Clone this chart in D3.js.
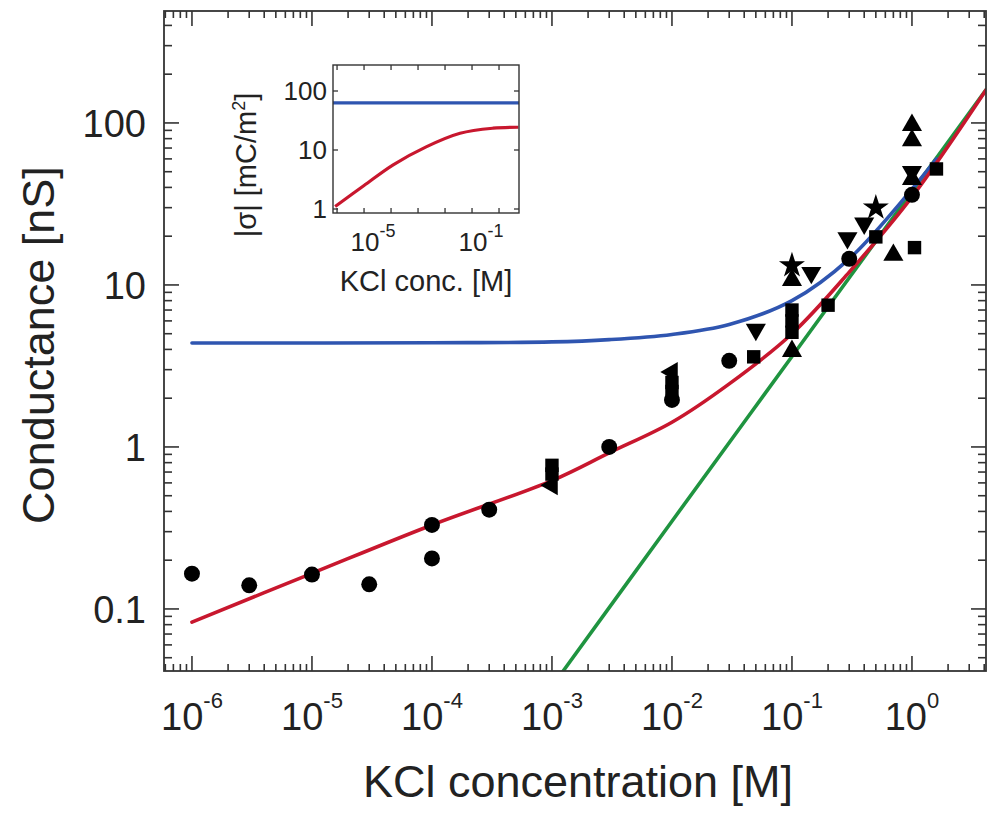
<!DOCTYPE html>
<html><head><meta charset="utf-8">
<script src="https://cdn.jsdelivr.net/npm/d3@7"></script>
<style>
body{margin:0;background:#fff}
text{font-family:"Liberation Sans",Arial,Helvetica,sans-serif;fill:#222}
</style>
</head><body>
<svg id="c" width="987" height="814"></svg>
<script>
// ---------------- data ----------------
const xTickExponents = [-6, -5, -4, -3, -2, -1, 0];
const yTickValues = [0.1, 1, 10, 100];
const yTickLabels = ["0.1", "1", "10", "100"];

// model curves [concentration M, conductance nS]
const blueCurve = [[1e-6,4.38],[1e-4,4.4],[1e-3,4.45],[3e-3,4.6],[0.01,4.95],[0.03,5.7],[0.1,8.0],[0.3,14.5],[1,39],[1.6,60]];
const redCurve = [[1e-6,0.083],[1e-5,0.166],[1e-4,0.33],[1e-3,0.62],[3e-3,0.92],[1e-2,1.42],[3e-2,2.45],[0.1,5.0],[0.3,12],[1,35],[4.14,160]];
const greenCurve = [[1.24e-3,0.0414],[0.01,0.348],[0.1,3.62],[1,37.7],[4.14,160]];

// measured points by marker type
const circles  = [[1e-6,0.165],[3e-6,0.14],[1e-5,0.163],[3e-5,0.142],[1e-4,0.33],[1e-4,0.205],[3e-4,0.41],[3e-3,1.0],[0.01,1.95],[0.03,3.4],[0.3,14.5],[1,36]];
const squares  = [[1e-3,0.77],[1e-3,0.68],[0.01,2.5],[0.01,2.2],[0.048,3.6],[0.1,7.0],[0.1,6.0],[0.1,5.1],[0.2,7.5],[0.5,19.8],[1.05,17],[1.6,52]];
const triUp    = [[0.1,10.7],[0.1,3.9],[0.7,15.3],[1,97],[1,78],[1,45]];
const triDown  = [[0.05,5.3],[0.145,11.9],[0.29,19.5],[0.4,24],[1,50]];
const triLeft  = [[1e-3,0.58],[0.01,2.9]];
const stars    = [[0.1,13.2],[0.5,30]];

// inset: surface charge |sigma| [mC/m^2]
const insetXTickExponents = [-5, -1];
const insetYTickValues = [1, 10, 100];
const insetYTickLabels = ["1", "10", "100"];
const insetBlue = [[7e-7,63],[5.5,63]];
const insetRed = [[8.5e-7,1.1],[1e-5,2.5],[1.2e-4,5.6],[2e-3,11.3],[0.036,19.2],[0.6,23.4],[5.2,24.3]];

// ---------------- layout ----------------
const svg = d3.select("#c");
const L = 164, R = 986, T = 11, B = 671;
const x = d3.scaleLog().domain([Math.pow(10,-6.233), Math.pow(10,0.617)]).range([L, R]);
const y = d3.scaleLog().domain([Math.pow(10,-1.383), Math.pow(10,2.691)]).range([B, T]);

const axisColor = "#333";
const isMajor = v => Math.abs(Math.log10(v) - Math.round(Math.log10(v))) < 1e-6;

svg.append("defs").append("clipPath").attr("id","clipMain")
  .append("rect").attr("x",L).attr("y",T).attr("width",R-L).attr("height",B-T);

// ticks main
const gT = svg.append("g").attr("stroke", axisColor).attr("stroke-width", 1.6);
x.ticks().forEach(v => {
  const len = isMajor(v) ? 15 : 7;
  const px = x(v);
  gT.append("line").attr("x1",px).attr("x2",px).attr("y1",B).attr("y2",B-len);
  gT.append("line").attr("x1",px).attr("x2",px).attr("y1",T).attr("y2",T+len);
});
y.ticks().forEach(v => {
  const len = isMajor(v) ? 15 : 8;
  const py = y(v);
  gT.append("line").attr("x1",L).attr("x2",L+len).attr("y1",py).attr("y2",py);
  gT.append("line").attr("x1",R).attr("x2",R-len).attr("y1",py).attr("y2",py);
});

// curves
const line = d3.line().x(d => x(d[0])).y(d => y(d[1])).curve(d3.curveCatmullRom.alpha(0.5));
const gC = svg.append("g").attr("clip-path","url(#clipMain)").attr("fill","none").attr("stroke-width",3.6).attr("stroke-linecap","round");
gC.append("path").datum(greenCurve).attr("d", line).attr("stroke", "#1f9440");
gC.append("path").datum(blueCurve).attr("d", line).attr("stroke", "#2f55b0");
gC.append("path").datum(redCurve).attr("d", line).attr("stroke", "#c8172e");

// markers
const gM = svg.append("g").attr("fill", "#000");
function drawMarkers(data, type, size, rot) {
  const sym = d3.symbol().type(type).size(size);
  gM.selectAll(null).data(data).enter().append("path")
    .attr("d", sym)
    .attr("transform", d => `translate(${x(d[0])},${y(d[1])}) rotate(${rot})`);
}
drawMarkers(circles, d3.symbolCircle, 200, 0);
drawMarkers(squares, d3.symbolSquare, 180, 0);
drawMarkers(triUp, d3.symbolTriangle, 175, 0);
drawMarkers(triDown, d3.symbolTriangle, 175, 180);
drawMarkers(triLeft, d3.symbolTriangle, 175, -90);
drawMarkers(stars, d3.symbolStar, 210, 0);

// frame
svg.append("rect").attr("x",L).attr("y",T).attr("width",R-L).attr("height",B-T)
  .attr("fill","none").attr("stroke",axisColor).attr("stroke-width",1.8);

// tick labels main
xTickExponents.forEach(e => {
  const t = svg.append("text").attr("x", x(Math.pow(10,e))).attr("y", 730)
    .attr("text-anchor","middle").attr("font-size", 38);
  t.append("tspan").text("10");
  t.append("tspan").attr("dy", -22).attr("font-size", 22).text(String(e));
});
yTickValues.forEach((v,i) => {
  svg.append("text").attr("x", 146).attr("y", y(v)).attr("dy","0.36em")
    .attr("text-anchor","end").attr("font-size", 38).text(yTickLabels[i]);
});

// axis titles
svg.append("text").attr("x", 578).attr("y", 797).attr("text-anchor","middle")
  .attr("font-size", 45).text("KCl concentration [M]");
svg.append("text").attr("transform","translate(54,345) rotate(-90)").attr("text-anchor","middle")
  .attr("font-size", 45).text("Conductance [nS]");

// ---------------- inset ----------------
const iL = 333, iR = 519, iT = 65, iB = 213;
const ix = d3.scaleLog().domain([Math.pow(10,-6.15), Math.pow(10,0.74)]).range([iL, iR]);
const iy = d3.scaleLog().domain([Math.pow(10,-4/59), Math.pow(10,144/59)]).range([iB, iT]);

svg.append("rect").attr("x",iL).attr("y",iT).attr("width",iR-iL).attr("height",iB-iT).attr("fill","#fff");
svg.append("defs").append("clipPath").attr("id","clipInset")
  .append("rect").attr("x",iL).attr("y",iT).attr("width",iR-iL).attr("height",iB-iT);

const giT = svg.append("g").attr("stroke", axisColor).attr("stroke-width", 1.3);
ix.ticks().filter(isMajor).forEach(v => {
  const px = ix(v);
  giT.append("line").attr("x1",px).attr("x2",px).attr("y1",iB).attr("y2",iB-5);
  giT.append("line").attr("x1",px).attr("x2",px).attr("y1",iT).attr("y2",iT+5);
});
insetYTickValues.forEach(v => {
  const py = iy(v);
  giT.append("line").attr("x1",iL).attr("x2",iL+5).attr("y1",py).attr("y2",py);
  giT.append("line").attr("x1",iR).attr("x2",iR-5).attr("y1",py).attr("y2",py);
});

const iline = d3.line().x(d => ix(d[0])).y(d => iy(d[1])).curve(d3.curveCatmullRom.alpha(0.5));
const giC = svg.append("g").attr("clip-path","url(#clipInset)").attr("fill","none").attr("stroke-width",3.2);
giC.append("path").datum(insetBlue).attr("d", iline).attr("stroke", "#2f55b0");
giC.append("path").datum(insetRed).attr("d", iline).attr("stroke", "#c8172e");

svg.append("rect").attr("x",iL).attr("y",iT).attr("width",iR-iL).attr("height",iB-iT)
  .attr("fill","none").attr("stroke",axisColor).attr("stroke-width",1.4);

insetXTickExponents.forEach(e => {
  const t = svg.append("text").attr("x", ix(Math.pow(10,e)) + 9).attr("y", 251)
    .attr("text-anchor","middle").attr("font-size", 26);
  t.append("tspan").text("10");
  t.append("tspan").attr("dy", -14).attr("font-size", 18).text(String(e));
});
insetYTickValues.forEach((v,i) => {
  svg.append("text").attr("x", 327).attr("y", iy(v)).attr("dy","0.36em")
    .attr("text-anchor","end").attr("font-size", 26).text(insetYTickLabels[i]);
});
svg.append("text").attr("x", 426).attr("y", 291).attr("text-anchor","middle")
  .attr("font-size", 29).text("KCl conc. [M]");
const yl = svg.append("text").attr("transform","translate(256,165) rotate(-90)")
  .attr("text-anchor","middle").attr("font-size", 29);
yl.append("tspan").text("|σ| [mC/m");
yl.append("tspan").attr("dy", -11).attr("font-size", 18).text("2");
yl.append("tspan").attr("dy", 11).text("]");
</script>
</body></html>
